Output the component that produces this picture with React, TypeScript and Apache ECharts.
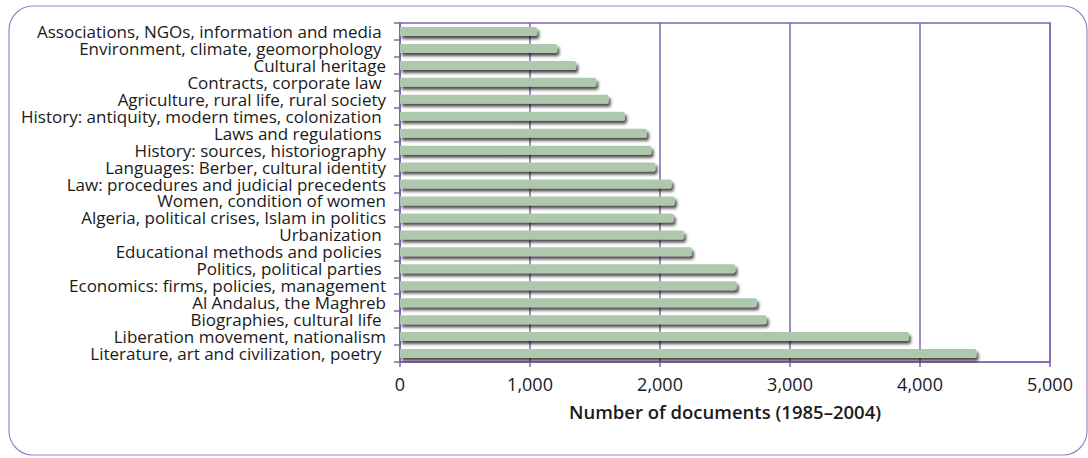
import React, { useEffect, useRef } from "react";
import * as echarts from "echarts";

const categories: string[] = [
  "Associations, NGOs, information and media ",
  "Environment, climate, geomorphology ",
  "Cultural heritage",
  "Contracts, corporate law ",
  "Agriculture, rural life, rural society",
  "History: antiquity, modern times, colonization ",
  "Laws and regulations ",
  "History: sources, historiography",
  "Languages: Berber, cultural identity",
  "Law: procedures and judicial precedents",
  "Women, condition of women",
  "Algeria, political crises, Islam in politics",
  "Urbanization ",
  "Educational methods and policies ",
  "Politics, political parties ",
  "Economics: firms, policies, management",
  "Al Andalus, the Maghreb",
  "Biographies, cultural life ",
  "Liberation movement, nationalism",
  "Literature, art and civilization, poetry ",
];

const documents: number[] = [
  1055, 1210, 1355, 1510, 1605, 1730, 1900, 1935, 1965, 2090, 2115, 2105,
  2185, 2245, 2580, 2590, 2745, 2820, 3915, 4435,
];

const xTicks = { min: 0, max: 5000, interval: 1000 };
const xAxisTitle = "Number of documents (1985–2004)";

const PURPLE = "#8064ad";
const BORDER = "#9a86c2";
const FONT = "'Open Sans', 'Liberation Sans', sans-serif";

export default function App() {
  const ref = useRef<HTMLDivElement>(null);
  useEffect(() => {
    if (!ref.current) return;
    const chart = echarts.init(ref.current, null, { renderer: "svg" });
    chart.setOption({
      animation: false,
      backgroundColor: "#ffffff",
      graphic: [
        {
          type: "rect",
          shape: { x: 9, y: 6, width: 1078, height: 449, r: 24 },
          style: { fill: "none", stroke: BORDER, lineWidth: 1.2 },
          z: -10,
        },
      ],
      grid: {
        left: 400,
        top: 23,
        right: 38,
        bottom: 96,
        show: true,
        borderColor: PURPLE,
        borderWidth: 1.5,
        containLabel: false,
      },
      xAxis: {
        type: "value",
        min: xTicks.min,
        max: xTicks.max,
        interval: xTicks.interval,
        name: xAxisTitle,
        nameLocation: "middle",
        nameGap: 40,
        nameTextStyle: {
          fontFamily: FONT,
          fontSize: 18.5,
          fontWeight: 600,
          color: "#1a1a1a",
        },
        axisLine: { show: true, lineStyle: { color: PURPLE, width: 1.5 } },
        axisTick: { show: true, length: 5, lineStyle: { color: PURPLE, width: 1.5 } },
        axisLabel: {
          fontFamily: FONT,
          fontSize: 18,
          color: "#1a1a1a",
          margin: 13,
          formatter: (v: number) => v.toLocaleString("en-US"),
        },
        splitLine: { show: true, lineStyle: { color: PURPLE, width: 1.5 } },
      },
      yAxis: {
        type: "category",
        data: categories,
        inverse: true,
        boundaryGap: true,
        axisLine: { show: true, lineStyle: { color: PURPLE, width: 1.5 } },
        axisTick: { show: true, length: 6, interval: 0, lineStyle: { color: PURPLE, width: 1.5 } },
        axisLabel: {
          fontFamily: FONT,
          fontSize: 17,
          lineHeight: 16,
          color: "#1a1a1a",
          margin: 14,
          interval: 0,
          hideOverlap: false,
        },
        splitLine: { show: false },
      },
      series: [
        {
          type: "bar",
          data: documents,
          barWidth: 9,
          itemStyle: {
            color: "#aec8ae",
            borderRadius: [0, 2, 2, 0],
            shadowColor: "rgba(0,0,0,0.7)",
            shadowBlur: 3,
            shadowOffsetX: 2,
            shadowOffsetY: 3,
          },
        },
      ],
    });
    return () => chart.dispose();
  }, []);
  return (
    <div
      ref={ref}
      style={{ position: "fixed", left: 0, top: 0, width: 1088, height: 458 }}
    />
  );
}
